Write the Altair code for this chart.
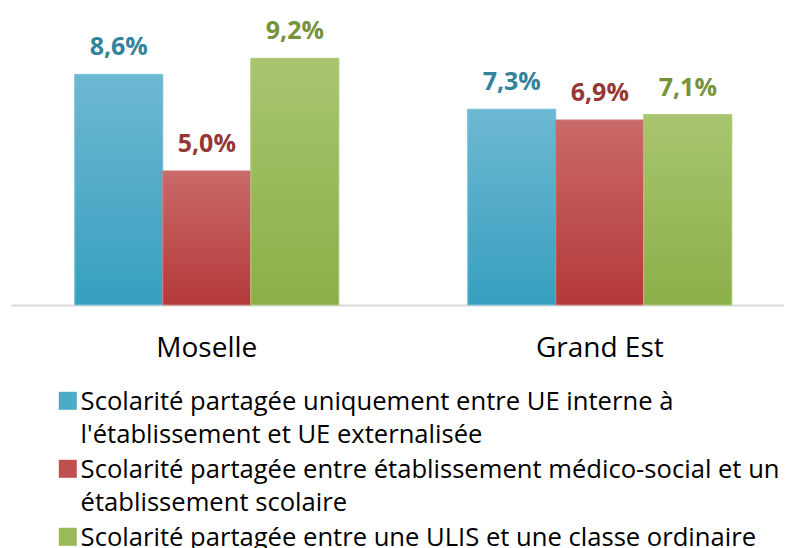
import altair as alt
import pandas as pd

categories = ["Moselle", "Grand Est"]
series = [
    "Scolarité partagée uniquement entre UE interne à\nl'établissement et UE externalisée",
    "Scolarité partagée entre établissement médico-social et un\nétablissement scolaire",
    "Scolarité partagée entre une ULIS et une classe ordinaire",
]
moselle = [8.6, 5.0, 9.2]
grand_est = [7.3, 6.9, 7.1]

solid = ["#4BACC6", "#C0504D", "#9BBB59"]
fill_top = ["#6DB8D2", "#C96A69", "#A9C56F"]
fill_bottom = ["#379FBF", "#B43939", "#8AAF48"]
edge = ["#7CC3DA", "#D07C7B", "#B2CB80"]
label_colors = ["#31849B", "#953735", "#76923C"]

rows = []
for cat, vals in zip(categories, [moselle, grand_est]):
    for s, v in zip(series, vals):
        rows.append({"cat": cat, "series": s, "value": v,
                     "label": f"{v:.1f}".replace(".", ",") + "%"})
df = pd.DataFrame(rows)

FONT = "Open Sans"

x = alt.X("cat:N", sort=categories, title=None,
          scale=alt.Scale(paddingInner=0.328, paddingOuter=0.1475, align=0.55),
          axis=alt.Axis(domainColor="#D9D9D9", domainWidth=2, ticks=False,
                        labelFont=FONT, labelFontSize=28, labelColor="#000000",
                        labelPadding=20, labelAngle=0))
xo = alt.XOffset("series:N", sort=series,
                 scale=alt.Scale(domain=series, paddingInner=0, paddingOuter=0))
y = alt.Y("value:Q", scale=alt.Scale(domain=[0, 11], nice=False, zero=True), axis=None)

base = alt.Chart(df)

bars = base.mark_bar(strokeWidth=0).encode(
    x=x, xOffset=xo, y=y,
    color=alt.Color("series:N", sort=series,
                    scale=alt.Scale(domain=series, range=solid),
                    legend=alt.Legend(title=None, orient="none", legendX=44, legendY=378,
                                      direction="vertical", symbolType="square",
                                      symbolSize=324, symbolStrokeWidth=0,
                                      labelFont=FONT, labelFontSize=25.6,
                                      labelColor="#000000", labelLimit=0,
                                      labelOffset=0,
                                      labelExpr="split(datum.label, '\\n')",
                                      labelBaseline="alphabetic", rowPadding=7, padding=0)),
)

layers = [bars]
for i, s in enumerate(series):
    grad = alt.Gradient(gradient="linear",
                        stops=[alt.GradientStop(color=fill_top[i], offset=0),
                               alt.GradientStop(color=fill_bottom[i], offset=1)],
                        x1=0, x2=0, y1=0, y2=1)
    layers.append(
        base.transform_filter(alt.datum.series == s)
        .mark_bar(color=grad, stroke=edge[i], strokeWidth=1)
        .encode(x=x, xOffset=xo, y=y)
    )
    layers.append(
        base.transform_filter(alt.datum.series == s)
        .mark_text(color=label_colors[i], font=FONT, fontSize=25, fontWeight="bold",
                   baseline="alphabetic", dy=-19)
        .encode(x=x, xOffset=xo, y=y, text="label:N")
    )

chart = alt.layer(*layers).properties(
    width=773, height=295,
    autosize=alt.AutoSizeParams(type="none"),
    padding={"left": 3, "top": 2, "right": 0, "bottom": 243},
).configure(view=alt.ViewConfig(strokeWidth=0),
            style={"guide-label": {"lineHeight": 33, "dy": 9}})

chart.save("out.html", embed_options={"renderer": "svg", "actions": False})
